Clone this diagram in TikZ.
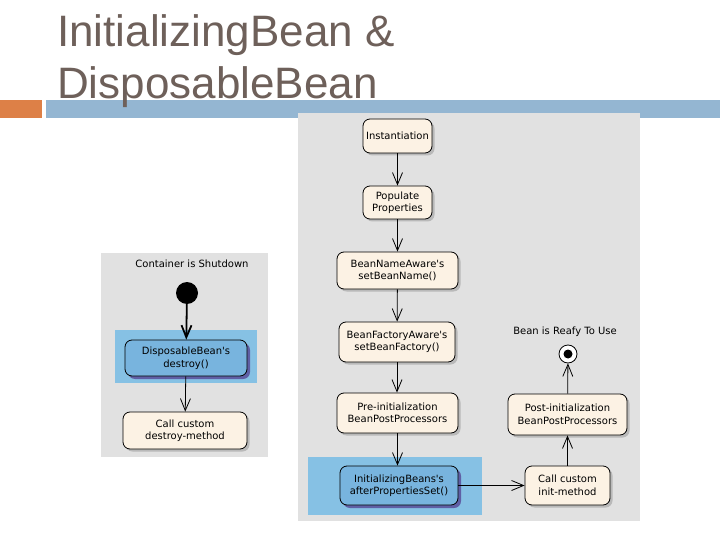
\documentclass[tikz,border=0pt]{standalone}
\usepackage{fontspec}
\setmainfont{Liberation Sans}
\newfontfamily\diagfont{DejaVu Sans}
\usetikzlibrary{arrows.meta,shadows}
\definecolor{titlec}{RGB}{110,96,90}
\definecolor{orangec}{RGB}{221,128,71}
\definecolor{barc}{RGB}{148,182,210}
\definecolor{panelc}{RGB}{225,225,225}
\definecolor{creamc}{RGB}{252,242,228}
\definecolor{hiliteblue}{RGB}{134,193,228}
\definecolor{nodeblue}{RGB}{120,180,222}
\definecolor{shadowpurple}{RGB}{95,95,165}
\begin{document}
\begin{tikzpicture}[x=1pt,y=-1pt,
  act/.style={draw=black, line width=0.8pt, rounded corners=7pt, fill=creamc,
    font=\diagfont\fontsize{10}{12.5}\selectfont, align=center, inner sep=0pt,
    drop shadow={shadow xshift=2.5pt, shadow yshift=-2.5pt, fill=gray!55, opacity=1}},
  bluact/.style={act, fill=nodeblue,
    drop shadow={shadow xshift=3pt, shadow yshift=-3pt, fill=shadowpurple, opacity=1}},
  flow/.style={-{Straight Barb[length=12pt,width=10pt]}, line width=0.8pt},
  lbl/.style={font=\diagfont\fontsize{10}{12.5}\selectfont, inner sep=0pt},
  titlefont/.style={font=\fontsize{44}{53}\selectfont, text=titlec, inner sep=0pt, anchor=base west}
]
\useasboundingbox (0,0) rectangle (720,540);
% header bars
\fill[orangec] (0,100) rectangle (42,118);
\fill[barc] (46,100) rectangle (720,118);
% panels
\fill[panelc] (298,113) rectangle (640,521);
\fill[panelc] (101,253) rectangle (268,457);
% title
\node[titlefont] (t1) at (57,47) {InitializingBean \&};
\node[titlefont] (t2) at (57,99) {DisposableBean};
% highlights
\fill[hiliteblue] (308,457) rectangle (482,515);
\fill[hiliteblue] (115,330) rectangle (257,383);
% main column
\node[act, minimum width=69pt, minimum height=34pt] (inst) at (397.5,136) {Instantiation};
\node[act, minimum width=69pt, minimum height=33pt] (pop) at (397.5,202.5) {Populate\\Properties};
\node[act, minimum width=121pt, minimum height=37pt] (bna) at (397.5,270.5) {BeanNameAware's\\setBeanName()};
\node[act, minimum width=116pt, minimum height=40pt] (bfa) at (397,342) {BeanFactoryAware's\\setBeanFactory()};
\node[act, minimum width=121pt, minimum height=40pt] (pre) at (397.5,413) {Pre-initialization\\BeanPostProcessors};
\node[bluact, minimum width=118pt, minimum height=39pt] (ib) at (399,485.5) {InitializingBeans's\\afterPropertiesSet()};
% right column
\node[act, minimum width=85pt, minimum height=39pt] (cci) at (567.5,485.5) {Call custom\\init-method};
\node[act, minimum width=119pt, minimum height=41pt] (post) at (567.5,414.5) {Post-initialization\\BeanPostProcessors};
\node[circle, draw=black, fill=white, line width=0.8pt, minimum size=18pt, inner sep=0pt] (fin) at (568,354) {};
\fill[black] (fin.center) circle (4.5pt);
\node[lbl] (ready) at (565,332) {Bean is Reafy To Use};
% left panel
\node[lbl] (shut) at (192,264) {Container is Shutdown};
\node[circle, fill=black, minimum size=22pt, inner sep=0pt] (start) at (187,293) {};
\node[bluact, minimum width=122pt, minimum height=36pt] (dbd) at (186,358) {DisposableBean's\\destroy()};
\node[act, minimum width=124pt, minimum height=37pt] (ccd) at (185,430.5) {Call custom\\destroy-method};
% connectors
\draw[flow] (inst) -- (pop);
\draw[flow] (pop) -- (bna);
\draw[flow] (bna) -- (bfa);
\draw[flow] (bfa.south) -- (bfa.south |- pre.north);
\draw[flow] (pre.south) -- (pre.south |- ib.north);
\draw[flow] (ib) -- (cci);
\draw[flow] (cci) -- (post);
\draw[flow] (post) -- (fin);
\draw[flow, line width=1.8pt] (start) -- (dbd);
\draw[flow] (dbd) -- (ccd);
\end{tikzpicture}
\end{document}
